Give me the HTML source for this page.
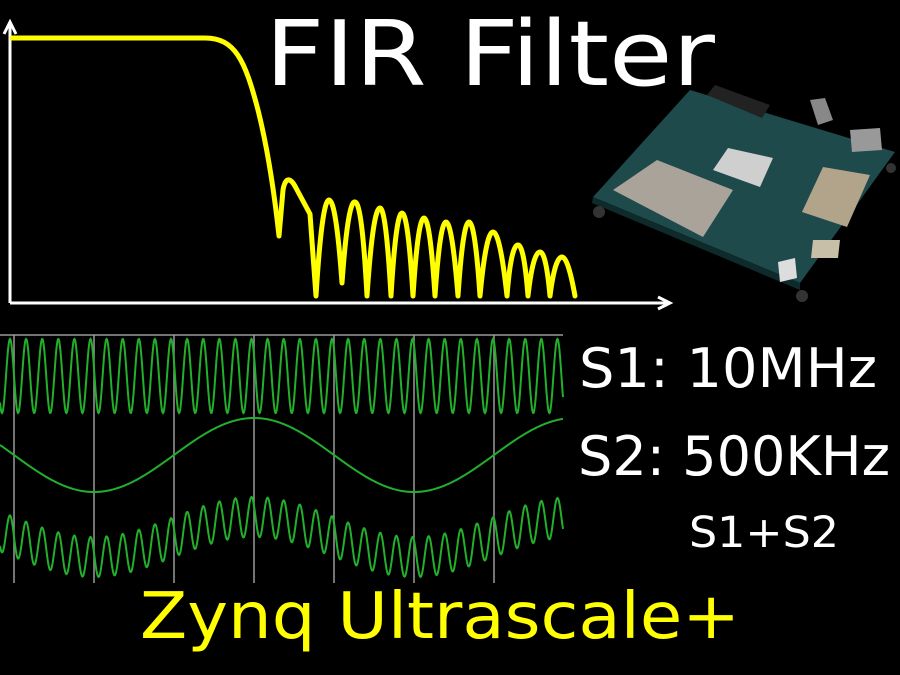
<!DOCTYPE html>
<html><head><meta charset="utf-8"><style>
html,body{margin:0;padding:0;background:#000;width:900px;height:675px;overflow:hidden}
svg{display:block}
text{font-family:"DejaVu Sans","Liberation Sans",sans-serif}
</style></head><body>
<svg id="s" width="900" height="675" viewBox="0 0 900 675" xmlns="http://www.w3.org/2000/svg">
<rect width="900" height="675" fill="#000"/>
<g stroke="#fff" stroke-width="3" fill="none">
<line x1="10" y1="24" x2="10" y2="303"/>
<line x1="10" y1="303" x2="668" y2="303"/>
<polyline points="4,34 10,22 16,34"/>
<polyline points="658,297 670,303 658,309"/>
</g>
<path fill="none" stroke="#ffff00" stroke-width="5" stroke-linejoin="round" stroke-linecap="round"
d="M12,38 L205,38 C235,38 245,60 258,110 C268,150 274,190 279,236 L283,190 C285,178 290,176 296,188 L310,214 L316,296
Q322,200 329,200 Q336,200 342,283 Q348,200 355,202 Q362,202 367,296 Q373,208 380,208 Q386,208 391,296 Q396,213 402,213 Q408,213 413,296 Q418,218 424,218 Q430,218 435,296 Q440,222 446,222 Q452,222 458,296 Q463,222 469,222 Q475,222 480,296 Q486,232 493,232 Q500,232 507,296 Q511,245 518,245 Q524,245 528,296 Q533,252 540,252 Q546,252 550,296 Q555,257 562,257 Q568,257 575,296"/>
<g stroke="#9a9a9a" stroke-width="1.5">
<line x1="0" y1="335" x2="563" y2="335"/>
<line x1="14" y1="335" x2="14" y2="583"/><line x1="94" y1="335" x2="94" y2="583"/>
<line x1="174" y1="335" x2="174" y2="583"/><line x1="254" y1="335" x2="254" y2="583"/>
<line x1="334" y1="335" x2="334" y2="583"/><line x1="414" y1="335" x2="414" y2="583"/>
<line x1="494" y1="335" x2="494" y2="583"/>
</g>
<g id="waves" fill="none" stroke="#22b02c" stroke-width="2"></g>
<polygon points="593,197 690,90 895,152 800,283" fill="#1e4a4c"/>
<polygon points="593,197 800,283 800,290 592,203" fill="#0f2a2b"/>
<polygon points="613,190 657,160 733,190 703,237" fill="#a9a39a"/>
<polygon points="802,212 823,167 870,175 847,227" fill="#b2a48a"/>
<polygon points="713,170 728,148 773,158 760,187" fill="#cfcfcf"/>
<polygon points="707,95 715,85 770,105 762,118" fill="#222"/>
<polygon points="810,100 825,98 833,120 818,125" fill="#888"/>
<polygon points="850,130 880,128 882,150 852,152" fill="#999"/>
<polygon points="778,262 795,258 797,278 780,282" fill="#ddd"/>
<polygon points="813,240 840,240 838,258 811,258" fill="#c8bfa8"/>
<g fill="#333"><circle cx="599" cy="212" r="6"/><circle cx="802" cy="296" r="6"/><circle cx="891" cy="168" r="5"/></g>
<text x="265" y="85" font-size="90" fill="#fff" textLength="450" lengthAdjust="spacingAndGlyphs">FIR Filter</text>
<text x="579" y="387" font-size="54" fill="#fff" textLength="298" lengthAdjust="spacingAndGlyphs">S1: 10MHz</text>
<text x="578" y="475" font-size="54" fill="#fff" textLength="312" lengthAdjust="spacingAndGlyphs">S2: 500KHz</text>
<text x="689" y="547" font-size="43" fill="#fff" textLength="150" lengthAdjust="spacingAndGlyphs">S1+S2</text>
<text x="140" y="638" font-size="64" fill="#ffff00" textLength="600" lengthAdjust="spacingAndGlyphs">Zynq Ultrascale+</text>
</svg>
<script>
(function(){
var g=document.getElementById('waves'),ns='http://www.w3.org/2000/svg';
function mk(f){var d='';for(var x=0;x<=563;x+=0.5){var y=f(x);d+=(x?'L':'M')+x+','+y.toFixed(2);}var p=document.createElementNS(ns,'path');p.setAttribute('d',d);g.appendChild(p);}
var P=16.1;
function fast(x){return Math.sin(2*Math.PI*(x-6)/P);}
function slow(x){return Math.cos(2*Math.PI*(x-254)/320);}
mk(function(x){return 376-37*fast(x);});
mk(function(x){return 455-37*slow(x);});
mk(function(x){return 537-20*slow(x)-20*fast(x);});
})();
</script>
</body></html>
